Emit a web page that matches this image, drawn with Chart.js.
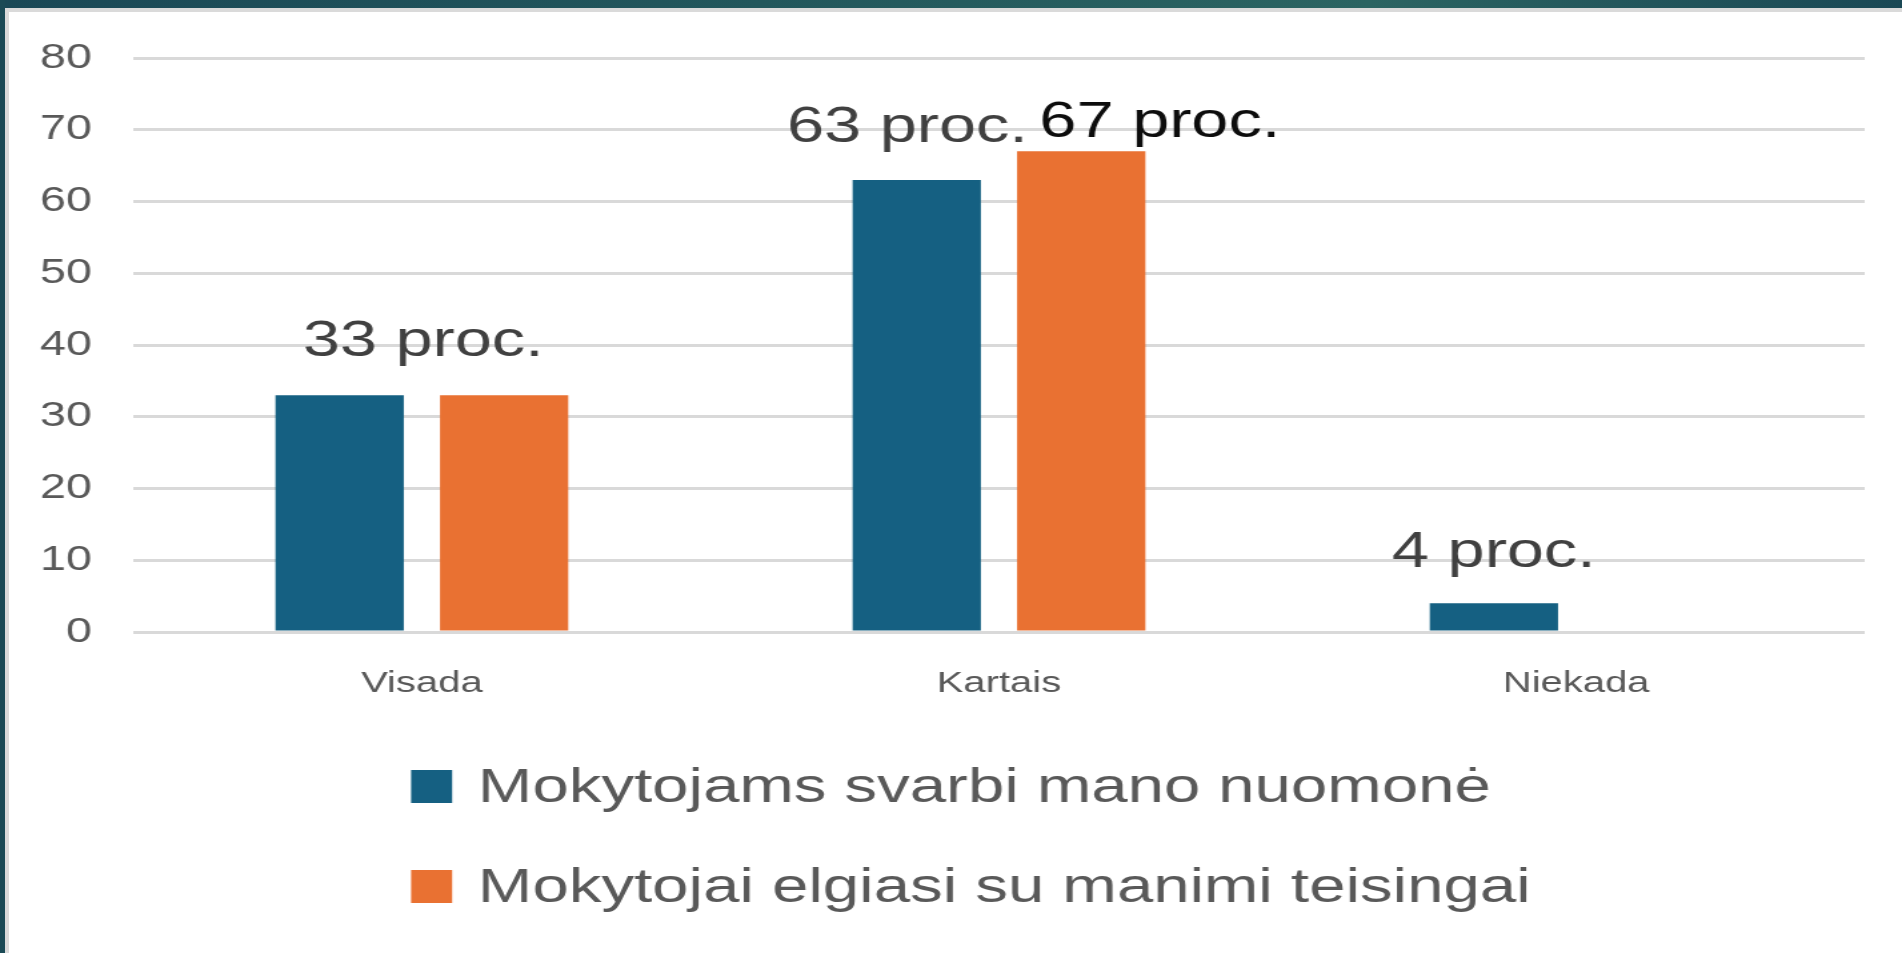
<!DOCTYPE html>
<html>
<head>
<meta charset="utf-8">
<script src="https://cdn.jsdelivr.net/npm/chart.js@4.4.1/dist/chart.umd.min.js"></script>
<style>
html,body{margin:0;padding:0;background:#ffffff;width:1902px;height:953px;overflow:hidden;}
#stage{position:absolute;left:0;top:0;width:1427px;height:953px;transform-origin:0 0;transform:scaleX(1.33287);}
#topband{position:absolute;left:0;top:0;width:1902px;height:8px;background:linear-gradient(90deg,#1a4856 0%,#22575c 40%,#2b6462 72%,#1a4855 100%);z-index:3;}
#topline{position:absolute;left:0;top:8px;width:1902px;height:4px;background:#dadada;z-index:2;}
#leftband{position:absolute;left:0;top:0;width:5px;height:953px;background:#1b4a56;z-index:4;}
#leftline{position:absolute;left:5px;top:8px;width:4px;height:945px;background:#dadada;z-index:2;}
</style>
</head>
<body>
<div id="topband"></div>
<div id="topline"></div>
<div id="leftband"></div>
<div id="leftline"></div>
<div id="stage"><canvas id="c" width="1427" height="953" style="width:1427px;height:953px"></canvas></div>
<script>
// ---- data ----
const categories = ['Visada', 'Kartais', 'Niekada'];
const seriesNames = ['Mokytojams svarbi mano nuomonė', 'Mokytojai elgiasi su manimi teisingai'];
const importanceValues = [33, 63, 4];
const fairnessValues = [33, 67, 0];
const yTickValues = [0, 10, 20, 30, 40, 50, 60, 70, 80];
const labelSuffix = ' proc.';

const FONT = '"Liberation Sans", Arial, sans-serif';

const valueLabelPlugin = {
  id: 'valueLabels',
  afterDatasetsDraw(chart, args, opts) {
    const ctx = chart.ctx;
    ctx.save();
    ctx.font = opts.size + 'px ' + FONT;
    ctx.textAlign = 'center';
    ctx.textBaseline = 'alphabetic';
    opts.placements.forEach(p => {
      const bar = chart.getDatasetMeta(p.dataset).data[p.index];
      const value = chart.data.datasets[p.dataset].data[p.index];
      let x = bar.x;
      if (p.centerOnGroup) {
        const xs = chart.data.datasets.map((d, i) => chart.getDatasetMeta(i).data[p.index].x);
        x = (Math.min(...xs) + Math.max(...xs)) / 2;
      }
      ctx.fillStyle = p.color;
      ctx.fillText(value + labelSuffix, x + p.dx, bar.y - p.rise);
    });
    ctx.restore();
  }
};

const stackedLegendPlugin = {
  id: 'stackedLegend',
  afterDraw(chart, args, opts) {
    const ctx = chart.ctx;
    ctx.save();
    ctx.font = opts.size + 'px ' + FONT;
    ctx.textAlign = 'left';
    ctx.textBaseline = 'alphabetic';
    chart.data.datasets.forEach((ds, i) => {
      const base = opts.firstBaseline + i * opts.rowGap;
      ctx.fillStyle = ds.backgroundColor;
      ctx.fillRect(opts.x, base - opts.boxRise, opts.boxW, opts.boxH);
      ctx.fillStyle = opts.color;
      ctx.fillText(ds.label, opts.x + opts.boxW + opts.gap, base);
    });
    ctx.restore();
  }
};

new Chart(document.getElementById('c'), {
  type: 'bar',
  data: {
    labels: categories,
    datasets: [
      { label: seriesNames[0], data: importanceValues, backgroundColor: '#156082' },
      { label: seriesNames[1], data: fairnessValues, backgroundColor: '#E97132' }
    ]
  },
  options: {
    responsive: false,
    maintainAspectRatio: false,
    animation: false,
    devicePixelRatio: 1,
    layout: { padding: { left: 30, right: 28, top: 58, bottom: 251 } },
    datasets: { bar: { categoryPercentage: 0.57, barPercentage: 0.78 } },
    scales: {
      x: {
        afterFit: (scale) => { scale.height = 70; },
        grid: { display: false, drawTicks: false },
        border: { display: false },
        ticks: { color: '#595959', padding: 34, font: { family: FONT, size: 30 } }
      },
      y: {
        min: 0, max: 80,
        afterFit: (scale) => { scale.width = 70; },
        afterBuildTicks: (scale) => { scale.ticks = yTickValues.map(v => ({ value: v })); },
        grid: { color: '#d9d9d9', lineWidth: 3, drawTicks: false },
        border: { display: false },
        ticks: { color: '#595959', padding: 31, font: { family: FONT, size: 35 } }
      }
    },
    plugins: {
      legend: { display: false },
      tooltip: { enabled: false },
      valueLabels: {
        size: 50,
        placements: [
          { dataset: 0, index: 0, centerOnGroup: true, dx: 1, rise: 39, color: '#404040' },
          { dataset: 0, index: 1, dx: -7, rise: 38, color: '#404040' },
          { dataset: 1, index: 1, dx: 59, rise: 14, color: '#0d0d0d' },
          { dataset: 0, index: 2, dx: 0, rise: 36, color: '#404040' }
        ]
      },
      stackedLegend: {
        size: 49, color: '#595959',
        x: 308.4, boxW: 30.8, boxH: 33, boxRise: 32, gap: 19.4,
        firstBaseline: 802, rowGap: 100
      }
    }
  },
  plugins: [valueLabelPlugin, stackedLegendPlugin]
});
</script>
</body>
</html>
